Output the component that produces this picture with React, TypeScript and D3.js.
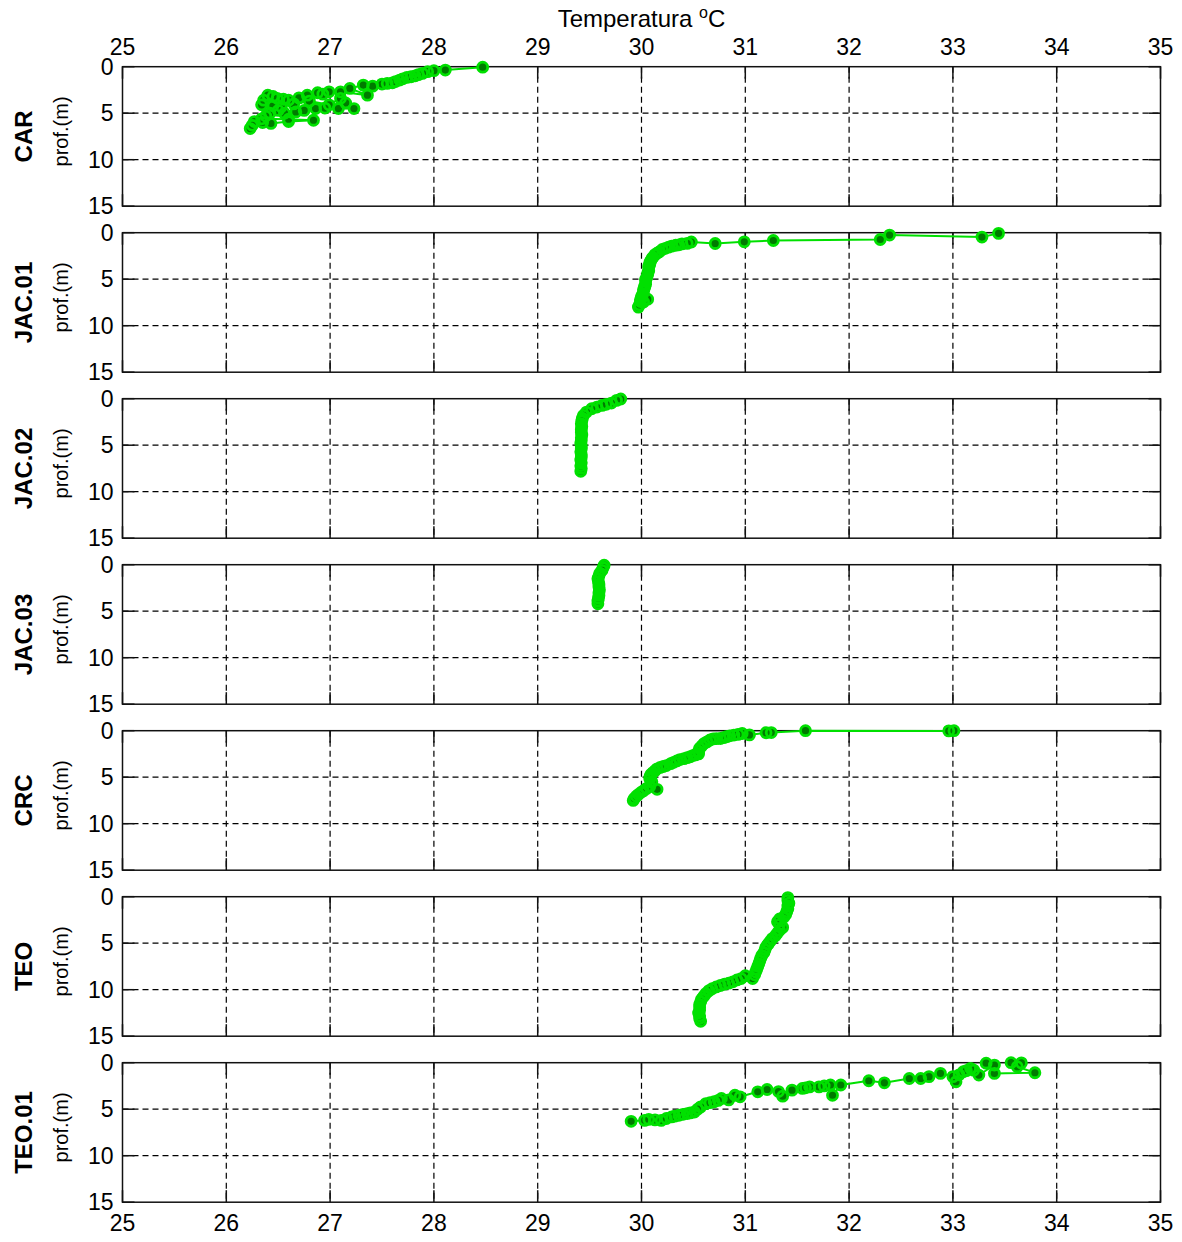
import React from "react";
import * as d3 from "d3";

// Temperature (°C) vs depth (m) profiles, one panel per station.
const stations = ["CAR", "JAC.01", "JAC.02", "JAC.03", "CRC", "TEO", "TEO.01"];
const temperatureTicks = [25, 26, 27, 28, 29, 30, 31, 32, 33, 34, 35];
const depthTicks = [0, 5, 10, 15];

// [temperature °C, depth m]
const carProfile: [number, number][] = [
  [28.47, 0.05], [28.11, 0.36], [28.0, 0.43], [27.94, 0.54], [27.89, 0.72], [27.85, 0.85],
  [27.82, 0.98], [27.78, 1.08], [27.74, 1.15], [27.7, 1.3], [27.67, 1.44], [27.63, 1.6],
  [27.6, 1.73], [27.55, 1.8], [27.5, 1.87], [27.41, 2.09], [27.32, 1.98], [27.19, 2.34],
  [27.36, 3.06], [27.1, 2.7], [26.99, 2.7], [26.93, 2.95], [26.88, 2.8], [26.78, 3.06],
  [26.7, 3.35], [26.6, 3.6], [26.55, 3.5], [26.49, 3.4], [26.45, 3.2], [26.4, 3.06],
  [26.36, 3.6], [26.34, 4.1], [26.45, 4.2], [26.53, 4.3], [26.65, 4.0], [26.8, 3.7],
  [26.99, 4.1], [27.1, 3.4], [27.15, 3.9], [27.23, 4.5], [27.08, 4.5], [26.95, 4.45],
  [26.86, 4.5], [26.75, 4.7], [26.67, 4.86], [26.56, 5.0], [26.5, 4.7], [26.42, 5.0],
  [26.38, 5.3], [26.34, 5.6], [26.6, 5.65], [26.84, 5.76], [26.6, 5.9], [26.43, 6.1],
  [26.35, 6.0], [26.27, 5.9], [26.25, 6.3], [26.23, 6.65],
];

const jac01Profile: [number, number][] = [
  [33.44, 0.07], [33.28, 0.47], [32.39, 0.25], [32.3, 0.73], [31.27, 0.84], [30.99, 0.98],
  [30.71, 1.16], [30.48, 1.0], [30.44, 1.15], [30.39, 1.2], [30.36, 1.3], [30.33, 1.35],
  [30.29, 1.45], [30.26, 1.56], [30.23, 1.68], [30.2, 1.8], [30.17, 2.07], [30.15, 2.2],
  [30.13, 2.36], [30.11, 2.65], [30.1, 2.8], [30.09, 3.0], [30.08, 3.2], [30.08, 3.4],
  [30.07, 3.6], [30.07, 3.75], [30.07, 4.1], [30.06, 4.3], [30.06, 4.5], [30.05, 4.85],
  [30.04, 5.0], [30.04, 5.2], [30.04, 5.55], [30.03, 5.75], [30.03, 5.9], [30.02, 6.1],
  [30.02, 6.3], [30.01, 6.65], [30.0, 6.85], [30.0, 7.0], [29.99, 7.2], [29.99, 7.4],
  [29.98, 7.75], [29.97, 8.0], [30.02, 7.45], [30.06, 7.15],
];

const jac02Profile: [number, number][] = [
  [29.8, 0.03], [29.76, 0.18], [29.71, 0.47], [29.66, 0.6], [29.62, 0.72], [29.57, 0.9],
  [29.52, 1.08], [29.47, 1.44], [29.44, 1.8], [29.43, 2.1], [29.425, 2.4], [29.42, 2.7],
  [29.425, 3.0], [29.42, 3.3], [29.42, 3.6], [29.425, 3.9], [29.42, 4.2], [29.42, 4.5],
  [29.415, 4.8], [29.42, 5.1], [29.42, 5.4], [29.415, 5.7], [29.42, 6.0], [29.42, 6.3],
  [29.415, 6.6], [29.42, 6.9], [29.415, 7.2], [29.42, 7.5], [29.415, 7.8],
];

const jac03Profile: [number, number][] = [
  [29.64, 0.05], [29.63, 0.3], [29.62, 0.6], [29.6, 0.9], [29.59, 1.2], [29.58, 1.5],
  [29.585, 1.8], [29.59, 2.1], [29.59, 2.4], [29.595, 2.7], [29.59, 3.0], [29.59, 3.3],
  [29.585, 3.6], [29.58, 3.9], [29.58, 4.2],
];

const crcProfile: [number, number][] = [
  [33.01, 0.0], [32.96, 0.02], [31.58, 0.0], [31.25, 0.2], [31.2, 0.22], [31.04, 0.45],
  [30.97, 0.3], [30.93, 0.4], [30.89, 0.47], [30.85, 0.55], [30.82, 0.65], [30.79, 0.75],
  [30.76, 0.84], [30.72, 0.85], [30.69, 0.88], [30.66, 1.0], [30.63, 1.2], [30.6, 1.4],
  [30.58, 1.65], [30.56, 1.9], [30.55, 2.2], [30.55, 2.5], [30.52, 2.6], [30.5, 2.65],
  [30.47, 2.8], [30.44, 2.9], [30.41, 3.0], [30.37, 3.1], [30.34, 3.25], [30.31, 3.4],
  [30.28, 3.55], [30.24, 3.75], [30.21, 3.85], [30.18, 3.95], [30.15, 4.1], [30.13, 4.3],
  [30.11, 4.5], [30.09, 4.7], [30.08, 4.95], [30.08, 5.2], [30.1, 5.5], [30.15, 6.3],
  [30.08, 6.0], [30.05, 6.2], [30.02, 6.45], [30.0, 6.6], [29.97, 6.85], [29.95, 7.05],
  [29.93, 7.3], [29.92, 7.5],
];

const teoProfile: [number, number][] = [
  [31.41, 0.1], [31.41, 0.4], [31.42, 0.7], [31.41, 1.0], [31.41, 1.3], [31.4, 1.6],
  [31.39, 1.9], [31.37, 2.2], [31.33, 2.4], [31.31, 2.7], [31.33, 3.0], [31.36, 3.3],
  [31.33, 3.6], [31.31, 3.9], [31.29, 4.2], [31.26, 4.5], [31.24, 4.8], [31.22, 5.1],
  [31.2, 5.4], [31.19, 5.7], [31.18, 6.0], [31.16, 6.3], [31.15, 6.6], [31.14, 6.9],
  [31.13, 7.2], [31.12, 7.5], [31.11, 7.8], [31.1, 8.1], [31.09, 8.4], [31.07, 8.8],
  [31.0, 8.5], [30.96, 8.8], [30.92, 8.95], [30.88, 9.15], [30.84, 9.3], [30.8, 9.4],
  [30.76, 9.55], [30.72, 9.7], [30.68, 9.9], [30.65, 10.1], [30.62, 10.4], [30.6, 10.7],
  [30.58, 11.0], [30.57, 11.3], [30.56, 11.6], [30.56, 11.9], [30.56, 12.2], [30.55, 12.5],
  [30.56, 12.8], [30.56, 13.1], [30.57, 13.4],
];

const teo01Profile: [number, number][] = [
  [33.56, 0.0], [33.66, 0.02], [33.62, 0.43], [33.79, 1.08], [33.4, 1.15], [33.32, 0.05],
  [33.4, 0.25], [33.25, 1.33], [33.2, 0.8], [33.17, 0.6], [33.13, 0.85], [33.1, 0.97],
  [33.06, 1.3], [33.03, 2.05], [33.0, 1.5], [32.88, 1.15], [32.77, 1.5], [32.69, 1.7],
  [32.58, 1.7], [32.34, 2.16], [32.19, 1.94], [31.92, 2.4], [31.84, 3.5], [31.82, 2.4],
  [31.76, 2.5], [31.71, 2.6], [31.62, 2.6], [31.58, 2.7], [31.55, 2.77], [31.45, 2.95],
  [31.36, 3.6], [31.32, 3.1], [31.21, 2.88], [31.12, 3.13], [30.95, 3.67], [30.9, 3.5],
  [30.84, 4.0], [30.77, 3.85], [30.74, 4.05], [30.7, 4.2], [30.66, 4.3], [30.62, 4.4],
  [30.57, 4.75], [30.54, 5.0], [30.51, 5.3], [30.47, 5.4], [30.44, 5.47], [30.4, 5.55],
  [30.36, 5.65], [30.32, 5.75], [30.29, 5.83], [30.24, 6.0], [30.19, 6.2], [30.13, 6.15],
  [30.07, 6.1], [30.03, 6.2], [29.9, 6.3],
];

const profiles = [carProfile, jac01Profile, jac02Profile, jac03Profile, crcProfile, teoProfile, teo01Profile];

const WIDTH = 1182;
const HEIGHT = 1242;
const AXIS_LEFT = 122.5;
const AXIS_RIGHT = 1160.5;
const FIRST_TOP = 66.7;
const PANEL_STEP = 166;
const PANEL_H = 139.5;
const TICK_LEN = 12;
const FONT = "'Liberation Sans', Arial, Helvetica, sans-serif";
const LINE_GREEN = "#00e000";
const FACE_GREEN = "#007a00";

function Panel({ index, name, data }: { index: number; name: string; data: [number, number][] }) {
  const top = FIRST_TOP + index * PANEL_STEP;
  const bottom = top + PANEL_H;
  const x = d3.scaleLinear().domain([25, 35]).range([AXIS_LEFT, AXIS_RIGHT]);
  const y = d3.scaleLinear().domain([0, 15]).range([top, bottom]);
  const path = d3
    .line<[number, number]>()
    .x((d) => x(d[0]))
    .y((d) => y(d[1]))(data);
  const mid = (top + bottom) / 2;

  return (
    <g>
      {/* dashed grid */}
      {temperatureTicks.slice(1, -1).map((t) => (
        <line key={"gx" + t} x1={x(t)} x2={x(t)} y1={top} y2={bottom}
          stroke="#000" strokeWidth={1.2} strokeDasharray="6,4" />
      ))}
      {depthTicks.slice(1, -1).map((d) => (
        <line key={"gy" + d} x1={AXIS_LEFT} x2={AXIS_RIGHT} y1={y(d)} y2={y(d)}
          stroke="#000" strokeWidth={1.2} strokeDasharray="6,4" />
      ))}
      {/* inner tick marks */}
      {temperatureTicks.map((t) => (
        <g key={"tx" + t}>
          <line x1={x(t)} x2={x(t)} y1={top} y2={top + TICK_LEN} stroke="#111" strokeWidth={1.5} />
          <line x1={x(t)} x2={x(t)} y1={bottom - TICK_LEN} y2={bottom} stroke="#111" strokeWidth={1.5} />
        </g>
      ))}
      {depthTicks.map((d) => (
        <g key={"ty" + d}>
          <line x1={AXIS_LEFT} x2={AXIS_LEFT + TICK_LEN} y1={y(d)} y2={y(d)} stroke="#111" strokeWidth={1.5} />
          <line x1={AXIS_RIGHT - TICK_LEN} x2={AXIS_RIGHT} y1={y(d)} y2={y(d)} stroke="#111" strokeWidth={1.5} />
        </g>
      ))}
      <rect x={AXIS_LEFT} y={top} width={AXIS_RIGHT - AXIS_LEFT} height={PANEL_H}
        fill="none" stroke="#111" strokeWidth={1.5} />
      {/* depth tick labels */}
      {depthTicks.map((d) => (
        <text key={"ly" + d} x={AXIS_LEFT - 9} y={y(d)} textAnchor="end"
          dominantBaseline="central" fontSize={23} fill="#000">{d}</text>
      ))}
      {/* station and axis labels */}
      <text transform={`translate(23,${mid}) rotate(-90)`} textAnchor="middle"
        dominantBaseline="central" fontSize={24} fontWeight="bold" fill="#000">{name}</text>
      <text transform={`translate(61,${mid - 5}) rotate(-90)`} textAnchor="middle"
        dominantBaseline="central" fontSize={20} fill="#000">prof.(m)</text>
      {/* profile: line, marker faces, then marker edges */}
      <path d={path ?? ""} fill="none" stroke={LINE_GREEN} strokeWidth={2} />
      {data.map((d, i) => (
        <circle key={"f" + i} cx={x(d[0])} cy={y(d[1])} r={5} fill={FACE_GREEN} />
      ))}
      {data.map((d, i) => (
        <circle key={"e" + i} cx={x(d[0])} cy={y(d[1])} r={5} fill="none"
          stroke={LINE_GREEN} strokeWidth={2.8} />
      ))}
    </g>
  );
}

export default function App() {
  const x = d3.scaleLinear().domain([25, 35]).range([AXIS_LEFT, AXIS_RIGHT]);
  const lastBottom = FIRST_TOP + (stations.length - 1) * PANEL_STEP + PANEL_H;
  return (
    <svg width={WIDTH} height={HEIGHT}
      style={{ display: "block", overflow: "hidden", background: "#fff", margin: "-8px 0 0 -8px" }}
      fontFamily={FONT}>
      <rect x={0} y={0} width={WIDTH} height={HEIGHT} fill="#fff" />
      <text x={(AXIS_LEFT + AXIS_RIGHT) / 2} y={27} textAnchor="middle" fontSize={24} fill="#000">
        Temperatura <tspan dy={-9} fontSize={16}>o</tspan>
        <tspan dy={9}>C</tspan>
      </text>
      {temperatureTicks.map((t) => (
        <text key={"top" + t} x={x(t)} y={55} textAnchor="middle" fontSize={23} fill="#000">{t}</text>
      ))}
      {stations.map((s, i) => (
        <Panel key={s} index={i} name={s} data={profiles[i]} />
      ))}
      {temperatureTicks.map((t) => (
        <text key={"bot" + t} x={x(t)} y={lastBottom + 29} textAnchor="middle" fontSize={23} fill="#000">{t}</text>
      ))}
    </svg>
  );
}
